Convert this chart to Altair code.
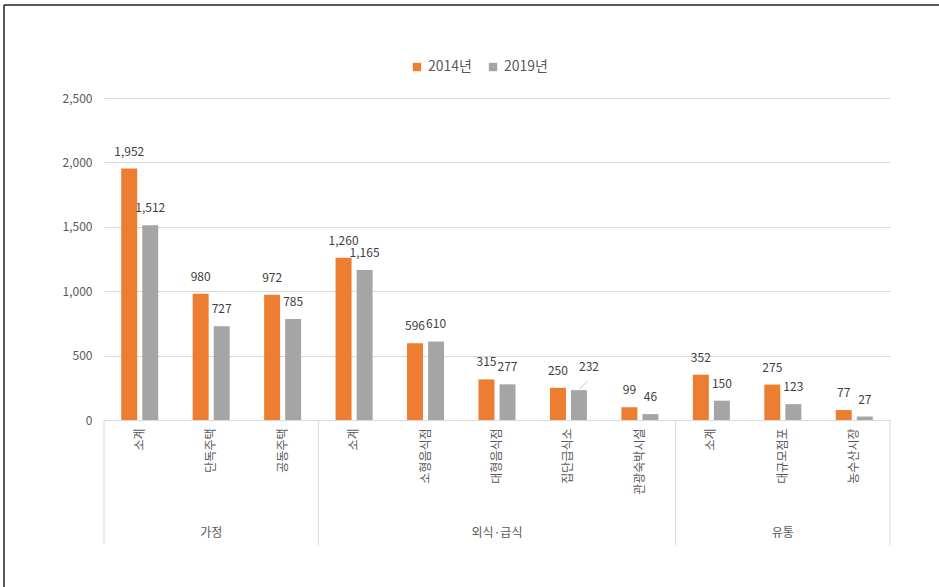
import altair as alt
import pandas as pd

groups = ["가정"] * 3 + ["외식·급식"] * 5 + ["유통"] * 3
items = ["소계", "단독주택", "공동주택", "소계", "소형음식점", "대형음식점",
         "집단급식소", "관광숙박시설", "소계", "대규모점포", "농수산시장"]
v2014 = [1952, 980, 972, 1260, 596, 315, 250, 99, 352, 275, 77]
v2019 = [1512, 727, 785, 1165, 610, 277, 232, 46, 150, 123, 27]
series = ["2014년", "2019년"]
colors = ["#ED7D31", "#A5A5A5"]
y_ticks = [0, 500, 1000, 1500, 2000, 2500]

keys = [f"{i:02d}|{it}" for i, it in enumerate(items)]
rows = []
for k, g, it, a, b in zip(keys, groups, items, v2014, v2019):
    rows.append({"key": k, "group": g, "item": it, "series": series[0], "value": a})
    rows.append({"key": k, "group": g, "item": it, "series": series[1], "value": b})
df = pd.DataFrame(rows)

W, H = 786, 322
P = 0.482
step = W / len(keys)
FONT = "Noto Sans CJK KR"
TXT = "#595959"

xscale = alt.Scale(domain=keys, paddingInner=P, paddingOuter=P / 2)
xaxis = alt.Axis(labelAngle=-90, labelExpr="split(datum.label, '|')[1]",
                 ticks=False, domainColor="#d9d9d9", labelPadding=8,
                 labelFontSize=12, labelColor=TXT, labelFont=FONT, grid=False)
xenc = alt.X("key:N", scale=xscale, title=None, axis=xaxis)
yscale = alt.Scale(domain=[0, 2500], nice=False, zero=True)
yaxis = alt.Axis(values=y_ticks, format=",.0f", domain=False, ticks=False,
                 gridColor="#d9d9d9", labelPadding=12, labelFontSize=12,
                 labelColor=TXT, labelFont=FONT)
yenc = alt.Y("value:Q", scale=yscale, title=None, axis=yaxis)
xoff = alt.XOffset("series:N", scale=alt.Scale(domain=series, paddingInner=0.24))
color = alt.Color("series:N", scale=alt.Scale(domain=series, range=colors),
                  legend=alt.Legend(title=None, orient="none", direction="horizontal",
                                    legendX=306, legendY=-38, symbolType="square",
                                    symbolSize=70, labelFontSize=14, labelColor=TXT,
                                    labelFont=FONT, columnPadding=14, symbolStrokeWidth=0))

base = alt.Chart(df)
bars = base.mark_bar().encode(x=xenc, xOffset=xoff, y=yenc, color=color)

is_special = "datum.series == '2019년' && datum.key == '06|집단급식소'"
labels = base.mark_text(baseline="middle", dy=-17, fontSize=12, color="#404040", font=FONT).encode(
    x=xenc, xOffset=xoff, y=yenc,
    text=alt.Text("value:Q", format=",")).transform_filter("!(" + is_special + ")")
special = base.mark_text(baseline="middle", dx=10, dy=-23, fontSize=12, color="#404040", font=FONT).encode(
    x=xenc, xOffset=xoff, y=yenc,
    text=alt.Text("value:Q", format=",")).transform_filter(is_special)
leader = base.mark_rule(color="#bfbfbf", strokeWidth=1, xOffset=11, x2Offset=19,
                        yOffset=-1, y2Offset=-9).encode(
    x=xenc, x2="key:N", y=yenc, y2="value:Q"
).transform_filter(is_special)

# group boundaries
bdf = pd.DataFrame({"key": [keys[3], keys[8]]})
bounds_mid = alt.Chart(bdf).mark_rule(color="#d9d9d9", xOffset=-step * P / 2).encode(
    x=alt.X("key:N", scale=xscale, bandPosition=0, axis=xaxis, title=None),
    y=alt.value(H), y2=alt.value(H + 125))
fdf = pd.DataFrame({"a": [0]})
bound_left = alt.Chart(fdf).mark_rule(color="#d9d9d9").encode(
    x=alt.value(0), y=alt.value(H), y2=alt.value(H + 125))
bound_right = alt.Chart(fdf).mark_rule(color="#d9d9d9").encode(
    x=alt.value(W), y=alt.value(H), y2=alt.value(H + 125))

gdf = pd.DataFrame({"key": [keys[1], keys[5], keys[9]], "group": ["가정", "외식·급식", "유통"]})
glabels = alt.Chart(gdf).mark_text(baseline="middle", fontSize=12, color=TXT, font=FONT).encode(
    x=alt.X("key:N", scale=xscale, axis=xaxis, title=None), y=alt.value(H + 113), text="group:N")

frame_left = alt.Chart(fdf).mark_rule(color="#222222", strokeWidth=1.5).encode(
    x=alt.value(-100), y=alt.value(-93), y2=alt.value(H + 167))
frame_top = alt.Chart(fdf).mark_rule(color="#222222", strokeWidth=1.5).encode(
    x=alt.value(-100), x2=alt.value(W + 49), y=alt.value(-93))

chart = alt.layer(bars, labels, special, leader, bounds_mid, bound_left, bound_right,
                  glabels, frame_left, frame_top).properties(
    width=W, height=H,
    autosize=alt.AutoSizeParams(type="none"),
    padding={"left": 104, "top": 98, "right": 49, "bottom": 167},
    background="white",
).configure(font=FONT).configure_view(stroke=None)

chart.save("out.html", embed_options={"renderer": "svg", "actions": False})
